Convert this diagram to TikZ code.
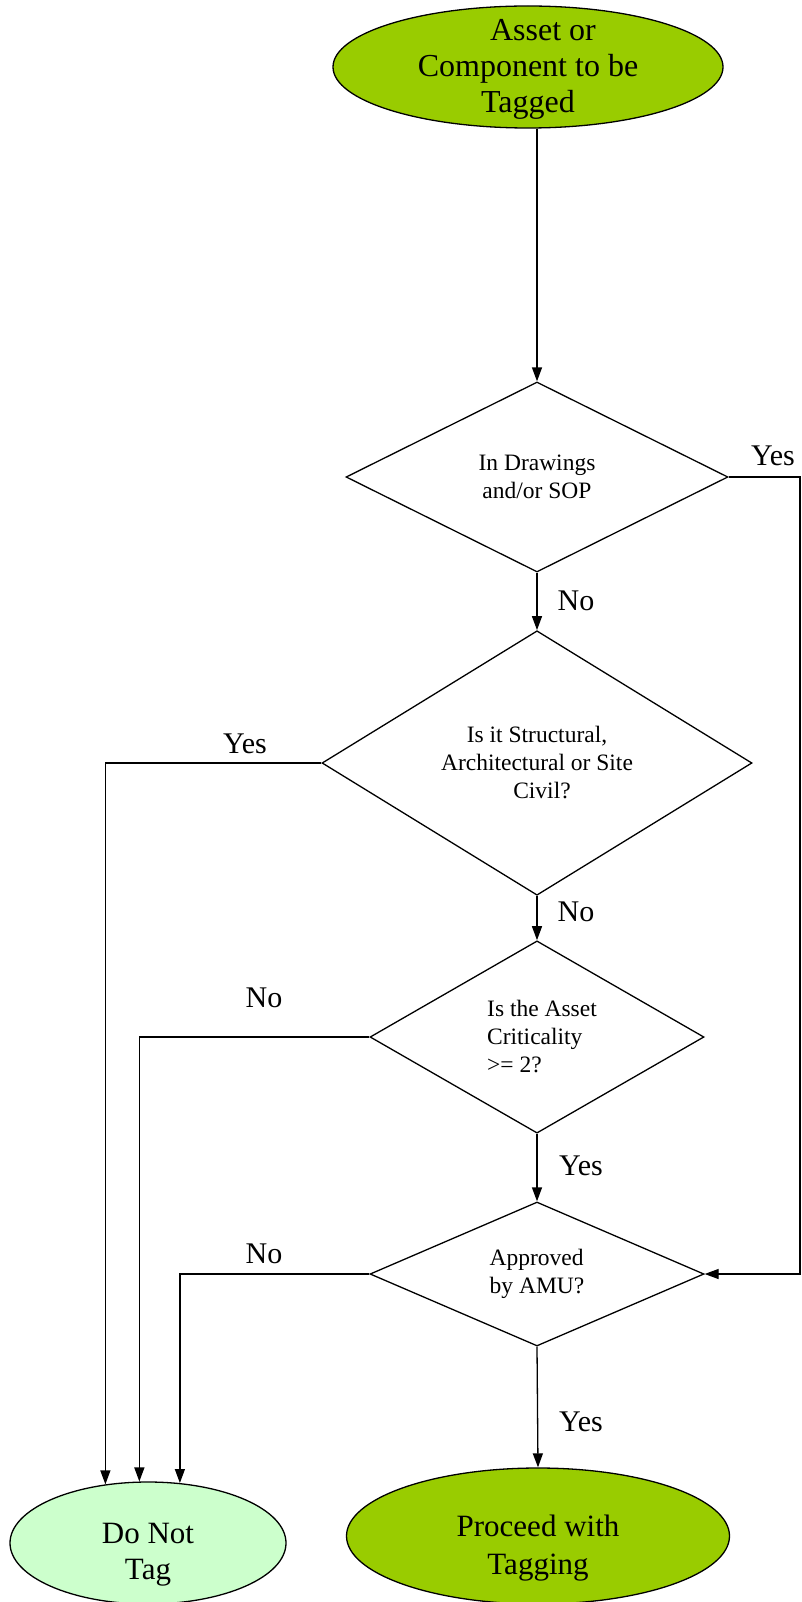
\documentclass[tikz,border=0pt]{standalone}
\usepackage{fontspec}
\setmainfont{Liberation Serif}
\usetikzlibrary{shapes.geometric,arrows.meta,positioning}
\definecolor{leafgreen}{HTML}{99CC00}
\definecolor{palegreen}{HTML}{CCFFCC}

\begin{document}
\begin{tikzpicture}[x=1pt,y=-1pt,
    term/.style={ellipse,draw,line width=1.3pt,inner sep=0pt},
    termtext/.style={align=center,inner sep=0pt},
    decision/.style={diamond,draw,line width=1.3pt,inner sep=0pt,font=\fontsize{23.5}{28}\selectfont},
    lbl/.style={font=\fontsize{30}{34}\selectfont,inner sep=0pt},
    arr/.style={line width=1.3pt,-{Triangle[length=14pt,width=10pt]}}]
    \useasboundingbox (0,0) rectangle (801,1602);
    \node[term,fill=leafgreen,minimum width=390pt,minimum height=122pt] (start) at (528,67) {};
    \node[termtext,font=\fontsize{32}{36}\selectfont,yshift=-2pt] (starttext) at (start) {\hspace*{30pt}Asset or\\Component to be\\Tagged};
    \node[decision,minimum width=382pt,minimum height=190pt,align=center] (d1) at (537,477) {In Drawings\\and/or SOP};
    \node[decision,minimum width=430pt,minimum height=189pt,align=center] (d2) at (537,763) {Is it Structural,\\Architectural or Site\\\hspace*{10pt}Civil?};
    \node[decision,minimum width=334pt,minimum height=141pt,align=left] (d3) at (537,1037) {\hspace*{10pt}Is the Asset\\\hspace*{10pt}Criticality\\\hspace*{10pt}>= 2?};
    \node[decision,minimum width=334pt,minimum height=141pt,align=left] (d4) at (537,1274) {Approved\\by AMU?};
    \node[term,fill=leafgreen,minimum width=383pt,minimum height=136pt] (proceed) at (538,1536) {};
    \node[termtext,font=\fontsize{31}{38}\selectfont,yshift=-12pt] (proceedtext) at (proceed) {Proceed with\\Tagging};
    \node[term,fill=palegreen,minimum width=276pt,minimum height=122pt] (notag) at (148,1543) {};
    \node[termtext,font=\fontsize{31}{36}\selectfont,yshift=-12pt] (notagtext) at (notag) {Do Not\\Tag};
    \coordinate (yesright) at (800,477);

    \draw[arr] (start.south -| d1.north) -- (d1.north);
    \draw[arr] (d1.south) -- (d2.north);
    \draw[arr] (d2.south) -- (d3.north);
    \draw[arr] (d3.south) -- (d4.north);
    \draw[arr] (d4.south) -- (proceed.north);
    \draw[arr] (d1.east) -- (yesright) |- (d4.east);
    \draw[arr] (d2.west) -| (notag.126);
    \draw[arr] (d3.west) -| (notag.98);
    \draw[arr] (d4.west) -| (notag.62);

    \node[lbl] (yes1) at (773,456) {Yes};
    \node[lbl] (no1) at (576,601) {No};
    \node[lbl] (yes2) at (245,744) {Yes};
    \node[lbl] (no2) at (576,912) {No};
    \node[lbl] (no3) at (264,998) {No};
    \node[lbl] (yes3) at (581,1166) {Yes};
    \node[lbl] (no4) at (264,1254) {No};
    \node[lbl] (yes4) at (581,1422) {Yes};
\end{tikzpicture}
\end{document}
